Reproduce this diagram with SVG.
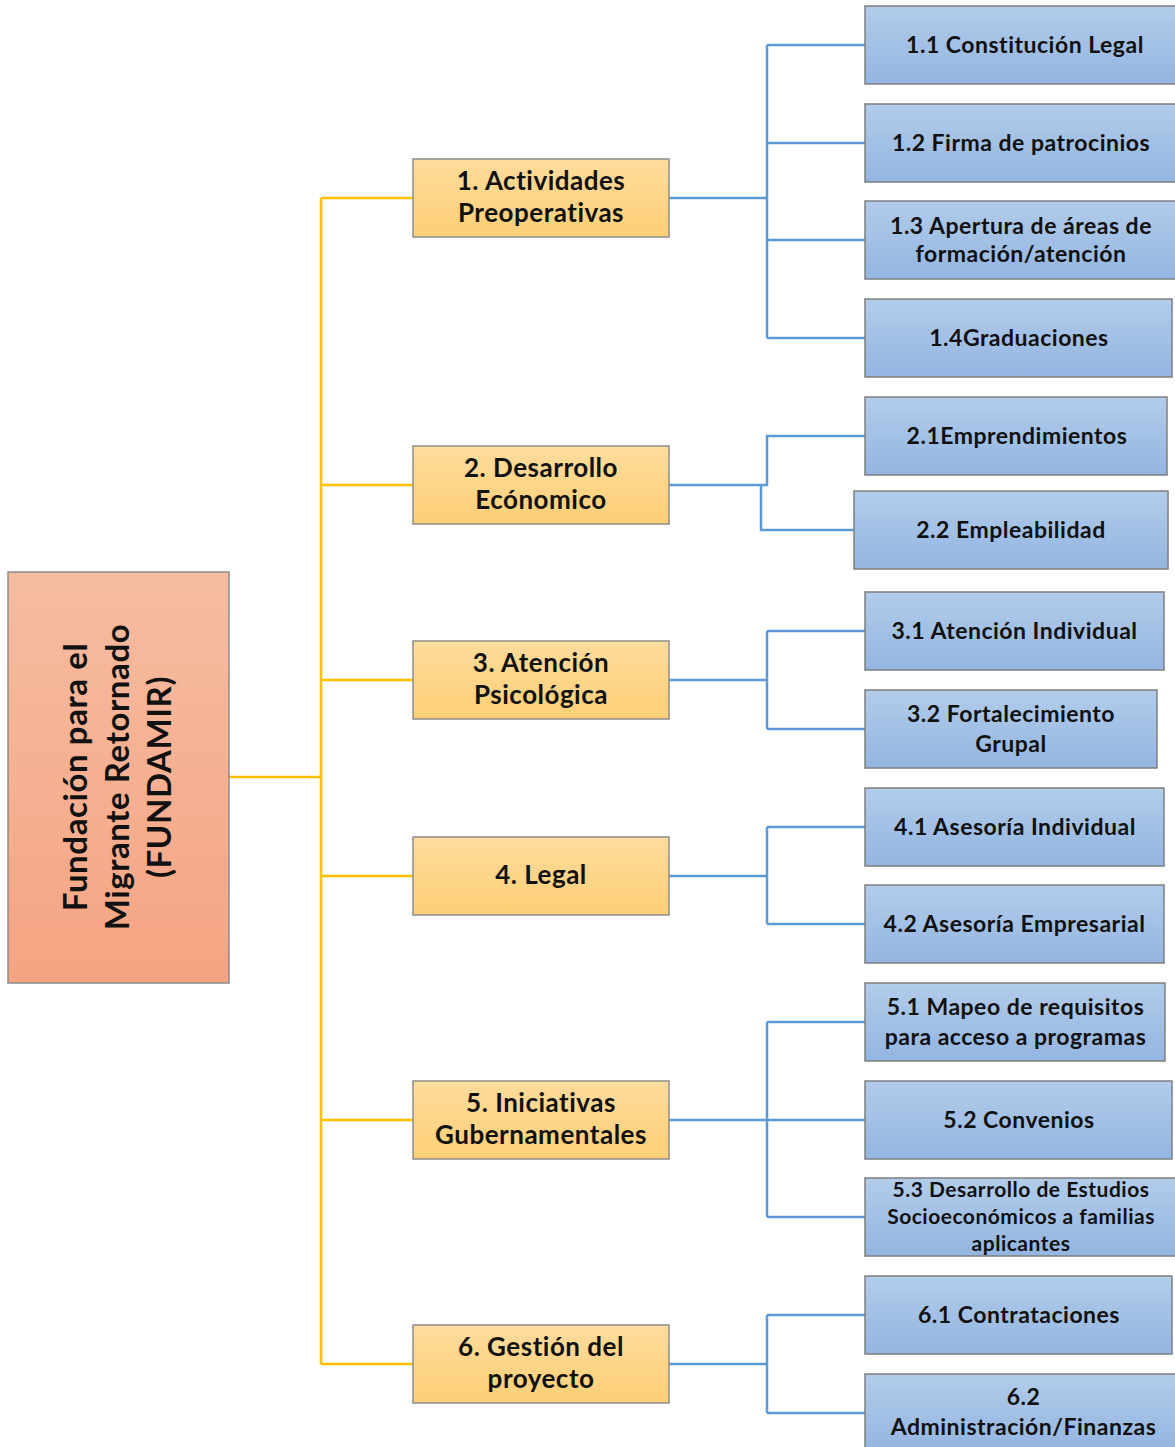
<svg xmlns="http://www.w3.org/2000/svg" width="1175" height="1447" viewBox="0 0 1175 1447">
<defs>
<linearGradient id="gRoot" x1="0" y1="0" x2="0" y2="1"><stop offset="0" stop-color="#F6BCA2"/><stop offset="1" stop-color="#F5A482"/></linearGradient>
<linearGradient id="gY" x1="0" y1="0" x2="0" y2="1"><stop offset="0" stop-color="#FEDC9C"/><stop offset="1" stop-color="#FDCF76"/></linearGradient>
<linearGradient id="gB" x1="0" y1="0" x2="0" y2="1"><stop offset="0" stop-color="#B2CCEA"/><stop offset="1" stop-color="#93B5E1"/></linearGradient>
</defs>
<style>
.root{fill:url(#gRoot);stroke:#8C8C8C;stroke-width:1.5}
.y{fill:url(#gY);stroke:#8C8C8C;stroke-width:1.5}
.b{fill:url(#gB);stroke:#7F7F7F;stroke-width:1.5}
text{font-family:Lato,"Open Sans","Liberation Sans",sans-serif;font-weight:bold;fill:#111;text-anchor:middle}
.ty{font-size:26px;letter-spacing:0.5px}
.tb{font-size:23px;letter-spacing:0.5px}
.tr{font-size:33px;letter-spacing:0.6px}
.t3{font-size:21px;letter-spacing:0.5px}
.cy{fill:none;stroke:#FFC000;stroke-width:2.5}
.cb{fill:none;stroke:#5B9BD5;stroke-width:2.5}
</style>
<g id="connectors">
<path class="cy" d="M229,777H321M321,198V1364M321,198H413M321,485H413M321,680H413M321,876H413M321,1120H413M321,1364H413"/>
<path class="cb" d="M669,198H767M767,45V338M767,45H865M767,143H865M767,240H865M767,338H865"/>
<path class="cb" d="M669,485H767V436H865M761,485V530H854"/>
<path class="cb" d="M669,680H767M767,631V729M767,631H865M767,729H865"/>
<path class="cb" d="M669,876H767M767,827V924M767,827H865M767,924H865"/>
<path class="cb" d="M669,1120H767M767,1022V1217M767,1022H865M767,1120H865M767,1217H865"/>
<path class="cb" d="M669,1364H767M767,1315V1413M767,1315H865M767,1413H865"/>
</g>
<g id="root"><rect class="root" x="8" y="572" width="221" height="411"/>
<text class="tr" transform="translate(118,777) rotate(-90)"><tspan x="0" y="-31">Fundación para el</tspan><tspan x="0" y="11">Migrante Retornado</tspan><tspan x="0" y="53">(FUNDAMIR)</tspan></text></g>
<g id="n1"><rect class="y" x="413" y="159" width="256" height="78"/><text class="ty"><tspan x="541" y="190">1. Actividades</tspan><tspan x="541" y="222">Preoperativas</tspan></text></g>
<g id="n2"><rect class="y" x="413" y="446" width="256" height="78"/><text class="ty"><tspan x="541" y="477">2. Desarrollo</tspan><tspan x="541" y="509">Ecónomico</tspan></text></g>
<g id="n3"><rect class="y" x="413" y="641" width="256" height="78"/><text class="ty"><tspan x="541" y="672">3. Atención</tspan><tspan x="541" y="704">Psicológica</tspan></text></g>
<g id="n4"><rect class="y" x="413" y="837" width="256" height="78"/><text class="ty" x="541" y="884">4. Legal</text></g>
<g id="n5"><rect class="y" x="413" y="1081" width="256" height="78"/><text class="ty"><tspan x="541" y="1112">5. Iniciativas</tspan><tspan x="541" y="1144">Gubernamentales</tspan></text></g>
<g id="n6"><rect class="y" x="413" y="1325" width="256" height="78"/><text class="ty"><tspan x="541" y="1356">6. Gestión del</tspan><tspan x="541" y="1388">proyecto</tspan></text></g>
<g id="n11"><rect class="b" x="865" y="6" width="318" height="78"/><text class="tb" x="1025" y="53">1.1 Constitución Legal</text></g>
<g id="n12"><rect class="b" x="865" y="104" width="318" height="78"/><text class="tb" x="1021" y="151">1.2 Firma de patrocinios</text></g>
<g id="n13"><rect class="b" x="865" y="201" width="318" height="78"/><text class="tb"><tspan x="1021" y="234">1.3 Apertura de áreas de</tspan><tspan x="1021" y="262">formación/atención</tspan></text></g>
<g id="n14"><rect class="b" x="865" y="299" width="307" height="78"/><text class="tb" x="1019" y="346">1.4Graduaciones</text></g>
<g id="n21"><rect class="b" x="865" y="397" width="302" height="78"/><text class="tb" x="1017" y="444">2.1Emprendimientos</text></g>
<g id="n22"><rect class="b" x="854" y="491" width="314" height="78"/><text class="tb" x="1011" y="538">2.2 Empleabilidad</text></g>
<g id="n31"><rect class="b" x="865" y="592" width="299" height="78"/><text class="tb" x="1014.5" y="639">3.1 Atención Individual</text></g>
<g id="n32"><rect class="b" x="865" y="690" width="292" height="78"/><text class="tb"><tspan x="1011" y="722">3.2 Fortalecimiento</tspan><tspan x="1011" y="752">Grupal</tspan></text></g>
<g id="n41"><rect class="b" x="865" y="788" width="299" height="78"/><text class="tb" x="1015" y="835">4.1 Asesoría Individual</text></g>
<g id="n42"><rect class="b" x="865" y="885" width="299" height="78"/><text class="tb" x="1014.5" y="932">4.2 Asesoría Empresarial</text></g>
<g id="n51"><rect class="b" x="865" y="983" width="300" height="78"/><text class="tb"><tspan x="1015.5" y="1015">5.1 Mapeo de requisitos</tspan><tspan x="1015.5" y="1045">para acceso a programas</tspan></text></g>
<g id="n52"><rect class="b" x="865" y="1081" width="307" height="78"/><text class="tb" x="1019" y="1128">5.2 Convenios</text></g>
<g id="n53"><rect class="b" x="865" y="1178" width="318" height="78"/><text class="t3"><tspan x="1021" y="1197">5.3 Desarrollo de Estudios</tspan><tspan x="1021" y="1224">Socioeconómicos a familias</tspan><tspan x="1021" y="1251">aplicantes</tspan></text></g>
<g id="n61"><rect class="b" x="865" y="1276" width="307" height="78"/><text class="tb" x="1019" y="1323">6.1 Contrataciones</text></g>
<g id="n62"><rect class="b" x="865" y="1374" width="318" height="78"/><text class="tb"><tspan x="1023.5" y="1405">6.2</tspan><tspan x="1023.5" y="1435">Administración/Finanzas</tspan></text></g>
</svg>
